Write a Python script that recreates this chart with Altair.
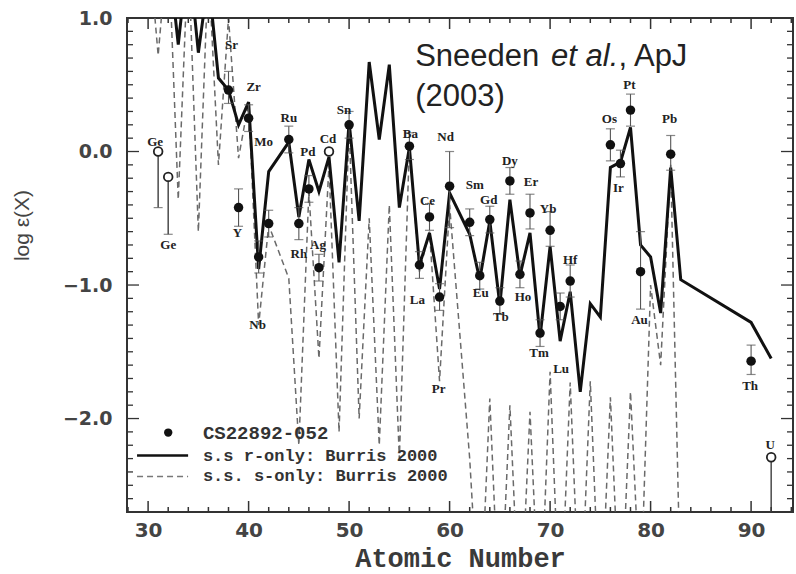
import altair as alt
import pandas as pd

# ---------------- data ----------------
# solar-system r-only abundances (Burris 2000), scaled
r_z = [32, 33, 34, 35, 36, 37, 38, 39, 40, 41, 42, 44, 45, 46, 47, 48, 49, 50, 51, 52,
       53, 54, 55, 56, 57, 58, 59, 60, 62, 63, 64, 65, 66, 67, 68, 69, 70, 71, 72, 73,
       74, 75, 76, 77, 78, 79, 80, 81, 82, 83, 90, 92]
r_val = [1.5, 0.80, 1.5, 0.74, 1.3, 0.55, 0.46, 0.20, 0.37, -0.88, -0.15, 0.07, -0.49, -0.06,
         -0.30, -0.04, -0.83, 0.22, -0.52, 0.67, 0.09, 0.65, -0.42, 0.03, -0.85, -0.61, -1.03,
         -0.31, -0.62, -0.96, -0.52, -1.15, -0.36, -0.93, -0.61, -1.39, -0.71, -1.42, -1.05,
         -1.80, -1.14, -1.24, -0.12, -0.08, 0.18, -0.70, -0.79, -1.21, -0.12, -0.96, -1.28, -1.55]

# solar-system s-only abundances (Burris 2000), scaled
s_z = [30, 31, 32, 33, 34, 35, 36, 37, 38, 39, 40, 41, 42, 44, 45, 46, 47, 48, 49, 50, 51,
       52, 53, 54, 55, 56, 57, 58, 59, 60, 62, 63, 64, 65, 66, 67, 68, 69, 70, 71, 72, 73,
       74, 75, 76, 77, 78, 79, 80, 81, 82, 83]
s_val = [1.6, 0.72, 1.6, -0.36, 1.5, -0.60, 1.4, -0.10, 1.0, -0.05, 0.37, -1.30, -0.55, -0.95,
         -2.20, -0.30, -1.55, -0.10, -2.10, 0.20, -2.00, -0.50, -2.20, -0.40, -2.30, 0.05, -0.90,
         -0.60, -1.72, -0.40, -2.30, -3.6, -1.85, -3.6, -1.90, -3.6, -1.95, -3.6, -1.65, -3.6,
         -1.73, -3.6, -1.72, -3.6, -1.84, -3.6, -1.80, -3.4, -1.00, -1.60, -0.10, -3.4]

# CS 22892-052 detections
obs_el = ["Sr", "Y", "Zr", "Nb", "Mo", "Ru", "Rh", "Pd", "Ag", "Sn", "Ba", "La", "Ce", "Pr",
          "Nd", "Sm", "Eu", "Gd", "Tb", "Dy", "Ho", "Er", "Tm", "Yb", "Lu", "Hf", "Os", "Ir",
          "Pt", "Au", "Pb", "Th"]
obs_z = [38, 39, 40, 41, 42, 44, 45, 46, 47, 50, 56, 57, 58, 59, 60, 62, 63, 64, 65, 66, 67,
         68, 69, 70, 71, 72, 76, 77, 78, 79, 82, 90]
obs_val = [0.46, -0.42, 0.25, -0.79, -0.54, 0.09, -0.54, -0.28, -0.87, 0.20, 0.04, -0.85,
           -0.49, -1.09, -0.26, -0.53, -0.93, -0.51, -1.12, -0.22, -0.92, -0.46, -1.36, -0.59,
           -1.16, -0.97, 0.05, -0.09, 0.31, -0.90, -0.02, -1.57]
obs_lo = [0.36, -0.56, 0.15, -0.91, -0.64, -0.01, -0.66, -0.38, -0.97, 0.10, -0.06, -0.95,
          -0.59, -1.19, -0.57, -0.63, -1.03, -0.61, -1.22, -0.32, -1.02, -0.58, -1.46, -0.71,
          -1.26, -1.09, -0.07, -0.19, 0.19, -1.18, -0.14, -1.67]
obs_hi = [0.60, -0.28, 0.35, -0.67, -0.44, 0.19, -0.42, -0.18, -0.77, 0.30, 0.14, -0.75,
          -0.39, -0.99, 0.00, -0.43, -0.83, -0.41, -1.02, -0.12, -0.82, -0.32, -1.26, -0.45,
          -1.06, -0.85, 0.17, 0.01, 0.43, -0.60, 0.12, -1.45]

# open symbols (limits)
lim_el = ["Ga", "Ge", "Cd", "U"]
lim_z = [31, 32, 48, 92]
lim_val = [0.0, -0.19, 0.0, -2.29]
lim_lo = [-0.42, -0.62, 0.0, -2.70]

# element label anchors (atomic number, log eps)
lab_el = ["Ge", "Ge", "Sr", "Y", "Zr", "Nb", "Mo", "Ru", "Rh", "Pd", "Ag", "Cd", "Sn", "Ba",
          "La", "Ce", "Pr", "Nd", "Sm", "Gd", "Eu", "Tb", "Dy", "Ho", "Er", "Tm", "Yb", "Lu",
          "Hf", "Os", "Ir", "Pt", "Au", "Pb", "Th", "U"]
lab_z = [30.7, 32.0, 38.3, 38.9, 40.5, 40.9, 41.5, 44.0, 45.0, 45.9, 46.9, 47.9, 49.5, 56.1,
         56.8, 57.8, 58.9, 59.6, 62.5, 63.9, 63.1, 65.1, 66.0, 67.3, 68.1, 68.9, 69.8, 71.1,
         72.0, 75.9, 76.8, 77.9, 78.9, 81.9, 89.9, 91.9]
lab_v = [0.075, -0.70, 0.80, -0.61, 0.48, -1.30, 0.07, 0.25, -0.77, 0.00, -0.70, 0.09, 0.31,
         0.13, -1.11, -0.37, -1.78, 0.11, -0.25, -0.36, -1.06, -1.24, -0.07, -1.09, -0.23,
         -1.51, -0.43, -1.63, -0.81, 0.24, -0.27, 0.50, -1.26, 0.24, -1.76, -2.20]

# axis tick values
x_major = [30, 40, 50, 60, 70, 80, 90]
x_minor = [z for z in range(28, 95, 2) if z % 10 != 0]
y_major = [1.0, 0.0, -1.0, -2.0]
y_minor = [round(-2.7 + 0.1 * i, 1) for i in range(38) if round(-2.7 + 0.1 * i, 1) not in y_major]

# ---------------- frames ----------------
r_df = pd.DataFrame({"Z": r_z, "v": r_val})
s_df = pd.DataFrame({"Z": s_z, "v": s_val})
obs_df = pd.DataFrame({"el": obs_el, "Z": obs_z, "v": obs_val, "lo": obs_lo, "hi": obs_hi})
lim_df = pd.DataFrame({"el": lim_el, "Z": lim_z, "v": lim_val, "lo": lim_lo})
lab_df = pd.DataFrame({"el": lab_el, "Z": lab_z, "v": lab_v})
cap_df = pd.DataFrame({"Z": obs_z + obs_z + lim_z[:2], "v": obs_lo + obs_hi + lim_lo[:2]})

W, H = 666, 494

xs = alt.Scale(domain=[27.9, 94.17], nice=False, zero=False)
ys = alt.Scale(domain=[-2.70, 1.0], nice=False, zero=False)

xaxis = alt.Axis(values=x_major, format="d", title="Atomic Number", grid=False, domain=False,
                 ticks=False, tickSize=0, labelFont="DejaVu Sans", labelFontSize=20,
                 labelFontWeight="bold", labelColor="#444", labelPadding=8, labelFlush=False,
                 titleFont="Liberation Mono", titleFontSize=27, titleFontWeight="bold",
                 titleColor="#3a3a3a", titleY=54, titleBaseline="alphabetic")
yaxis = alt.Axis(values=y_major, format=".1f", title="log ε(X)", grid=False, domain=False,
                 ticks=False, tickSize=0, labelFont="DejaVu Sans", labelFontSize=19,
                 labelFontWeight="bold", labelColor="#444", labelPadding=15, labelFlush=False,
                 titleFont="Liberation Sans", titleFontSize=21, titleFontWeight="normal",
                 titleColor="#444", titleX=-105, titleY=207, titleAngle=-90,
                 titleAlign="center", titleBaseline="middle")

X = alt.X("Z:Q", scale=xs, axis=xaxis)
Y = alt.Y("v:Q", scale=ys, axis=yaxis)

s_line = alt.Chart(s_df).mark_line(clip=True, color="#6a6a6a", strokeWidth=1.5,
                                   strokeDash=[6, 4]).encode(x=X, y=Y, order="Z:Q")
r_line = alt.Chart(r_df).mark_line(clip=True, color="#111", strokeWidth=3,
                                   strokeJoin="miter").encode(x=X, y=Y, order="Z:Q")

err = alt.Chart(obs_df).mark_rule(color="#555", strokeWidth=1.1).encode(
    x=X, y=alt.Y("lo:Q", scale=ys, axis=yaxis), y2="hi:Q")
lim_bar = alt.Chart(lim_df).mark_rule(color="#555", strokeWidth=1.6).encode(
    x=X, y=alt.Y("lo:Q", scale=ys, axis=yaxis), y2="v:Q")
caps = alt.Chart(cap_df).mark_tick(orient="horizontal", size=9, thickness=1.2,
                                   color="#555").encode(x=X, y=Y)

pts = alt.Chart(obs_df).mark_point(shape="circle", size=90, filled=True, color="#111",
                                   opacity=1).encode(x=X, y=Y)
opn = alt.Chart(lim_df).mark_point(shape="circle", size=75, filled=True, fill="white",
                                   stroke="#222", strokeWidth=1.8, opacity=1).encode(x=X, y=Y)

labs = alt.Chart(lab_df).mark_text(font="Liberation Serif", fontSize=13, fontWeight="bold",
                                   color="#222", baseline="middle", align="center").encode(
    x=X, y=Y, text="el:N")

# axis ticks pointing inward, drawn from the tick value lists
def xticks(vals, length):
    df = pd.DataFrame({"Z": vals})
    bottom = alt.Chart(df).mark_rule(color="#333", strokeWidth=1.5).encode(
        x=X, y=alt.value(H), y2=alt.value(H - length))
    top = alt.Chart(df).mark_rule(color="#333", strokeWidth=1.5).encode(
        x=X, y=alt.value(0), y2=alt.value(length))
    return bottom + top

def yticks(vals, length):
    df = pd.DataFrame({"v": vals})
    left = alt.Chart(df).mark_rule(color="#333", strokeWidth=1.3).encode(
        y=Y, x=alt.value(0), x2=alt.value(length))
    right = alt.Chart(df).mark_rule(color="#333", strokeWidth=1.3).encode(
        y=Y, x=alt.value(W), x2=alt.value(W - length))
    return left + right

ticks = xticks(x_major, 11) + xticks(x_minor, 5) + yticks(y_major, 12) + yticks(y_minor, 6)

# legend (inside the plot, lower left)
leg_pt = pd.DataFrame({"Z": [32.0], "v": [-2.105]})
leg_ln = pd.DataFrame({"Z": [28.9], "Z2": [33.98], "v": [-2.277]})
leg_ds = pd.DataFrame({"Z": [28.9], "Z2": [33.98], "v": [-2.434]})
leg_tx1 = pd.DataFrame({"Z": [35.45], "v": [-2.105], "t": ["CS22892-052"]})
leg_tx2 = pd.DataFrame({"Z": [35.45, 35.45], "v": [-2.277, -2.434],
                        "t": ["s.s r-only: Burris 2000", "s.s. s-only: Burris 2000"]})
lfont = dict(font="Liberation Mono", fontWeight="bold", color="#333", align="left",
             baseline="middle")
legend = (
    alt.Chart(leg_pt).mark_point(shape="circle", size=70, filled=True, color="#111",
                                 opacity=1).encode(x=X, y=Y)
    + alt.Chart(leg_ln).mark_rule(color="#111", strokeWidth=2.6).encode(x=X, x2="Z2:Q", y=Y)
    + alt.Chart(leg_ds).mark_rule(color="#777", strokeWidth=1.3, strokeDash=[6, 4]).encode(
        x=X, x2="Z2:Q", y=Y)
    + alt.Chart(leg_tx1).mark_text(fontSize=19, **lfont).encode(x=X, y=Y, text="t:N")
    + alt.Chart(leg_tx2).mark_text(fontSize=17, **lfont).encode(x=X, y=Y, text="t:N")
)

# citation annotation
ann1 = pd.DataFrame({"Z": [56.57], "v": [0.644], "t": ["Sneeden"]})
ann2 = pd.DataFrame({"Z": [70.1], "v": [0.644], "t": ["et al."]})
ann3 = pd.DataFrame({"Z": [76.8], "v": [0.644], "t": [", ApJ"]})
ann4 = pd.DataFrame({"Z": [56.57], "v": [0.34], "t": ["(2003)"]})
afont = dict(font="Liberation Sans", fontSize=31, color="#222", align="left",
             baseline="alphabetic")
annot = (
    alt.Chart(ann1).mark_text(**afont).encode(x=X, y=Y, text="t:N")
    + alt.Chart(ann2).mark_text(fontStyle="italic", **afont).encode(x=X, y=Y, text="t:N")
    + alt.Chart(ann3).mark_text(**afont).encode(x=X, y=Y, text="t:N")
    + alt.Chart(ann4).mark_text(**afont).encode(x=X, y=Y, text="t:N")
)

chart = alt.layer(
    s_line, r_line, err, lim_bar, caps, pts, opn, labs, ticks, legend, annot
).properties(
    width=W, height=H,
    autosize=alt.AutoSizeParams(type="none"),
    padding={"left": 127, "top": 18, "right": 3, "bottom": 62},
).configure_view(stroke="#333", strokeWidth=2)

chart.save("out.html", embed_options={"renderer": "svg", "actions": False})
